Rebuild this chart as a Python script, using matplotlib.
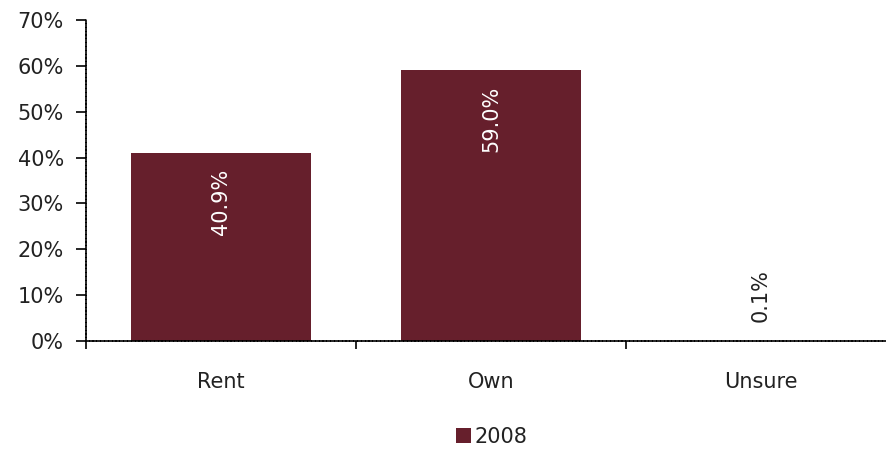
import matplotlib
matplotlib.use('Agg')
import matplotlib.pyplot as plt
import numpy as np

# data
categories = ['Rent', 'Own', 'Unsure']
values = [40.9, 59.0, 0.1]
series_name = '2008'
bar_color = '#661F2C'

plt.rcParams['font.family'] = ['DejaVu Sans']
text_color = '#222222'

fig = plt.figure(figsize=(8.86, 4.49), dpi=100)
ax = fig.add_axes([86 / 886, 108 / 449, 810 / 886, 321 / 449])

x = np.arange(len(categories))
bars = ax.bar(x, values, width=0.67, color=bar_color, label=series_name, zorder=2)

# value labels
for b, v in zip(bars, values):
    cx = b.get_x() + b.get_width() / 2
    if v > 5:
        ax.text(cx, v - 3.3, '%.1f%%' % v, rotation=90, ha='center', va='top',
                color='white', fontsize=15)
    else:
        ax.text(cx, v + 4, '%.1f%%' % v, rotation=90, ha='center', va='bottom',
                color=text_color, fontsize=15)

ax.set_xlim(-0.5, 2.5)
ax.set_ylim(0, 70)
ax.set_yticks(range(0, 71, 10))
ax.set_yticklabels(['%d%%' % t for t in range(0, 71, 10)], fontsize=15, color=text_color)
ax.set_xticks([-0.5, 0.5, 1.5, 2.5])
ax.set_xticklabels([])
ax.set_xticks(x, minor=True)
ax.set_xticklabels(categories, minor=True, fontsize=15, color=text_color)
ax.tick_params(axis='x', which='minor', length=0, pad=22)
ax.tick_params(axis='x', which='major', direction='out', length=6, width=1.2)
ax.tick_params(axis='y', direction='out', length=7, width=1.2, pad=9)

for s in ['top', 'right']:
    ax.spines[s].set_visible(False)
for s in ['left', 'bottom']:
    ax.spines[s].set_linestyle((0, (1.5, 0.8)))
    ax.spines[s].set_linewidth(1.2)

leg = fig.legend(loc='center', bbox_to_anchor=(0.555, 1 - 437 / 449),
                 frameon=False, fontsize=15, handlelength=0.7, handleheight=0.7,
                 handletextpad=0.2)
for t in leg.get_texts():
    t.set_color(text_color)

plt.savefig('out.png', dpi=100)
